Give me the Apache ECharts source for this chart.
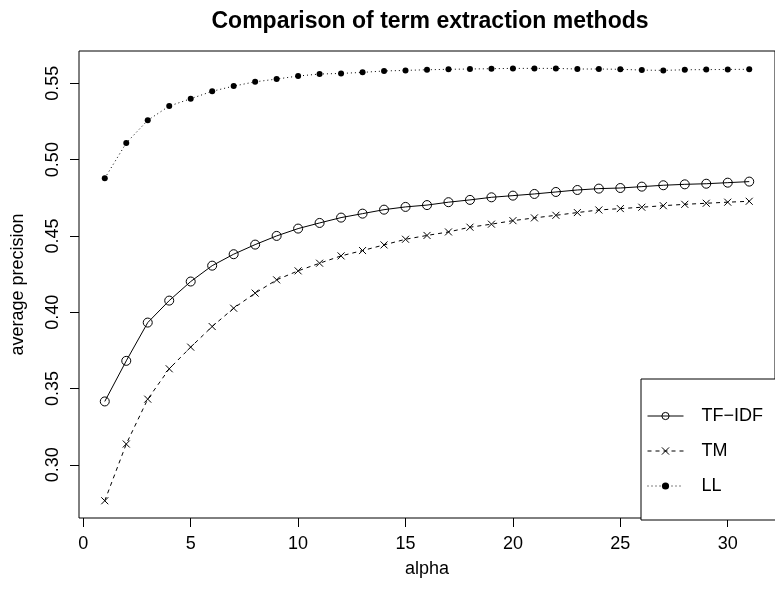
<!DOCTYPE html>
<html>
<head>
<meta charset="utf-8">
<script src="https://cdn.jsdelivr.net/npm/echarts@6/dist/echarts.min.js"></script>
<style>
    html, body { margin: 0; padding: 0; background: #fff; }
    #termChart { width: 775px; height: 595px; }
</style>
</head>
<body>
<div id="termChart"></div>
<script>
var alpha = [];
for (var i = 1; i <= 31; i++) alpha.push(i);

var tfidf = [0.3415, 0.3681, 0.3932, 0.4076, 0.4201, 0.4305, 0.4380, 0.4443, 0.4500, 0.4548,
    0.4585, 0.4620, 0.4646, 0.4672, 0.4690, 0.4702, 0.4721, 0.4736, 0.4753, 0.4764,
    0.4775, 0.4788, 0.4801, 0.4810, 0.4814, 0.4823, 0.4832, 0.4838, 0.4842, 0.4849, 0.4856];
var tm = [0.2764, 0.3136, 0.3430, 0.3629, 0.3771, 0.3906, 0.4026, 0.4125, 0.4212, 0.4271,
    0.4321, 0.4369, 0.4404, 0.4441, 0.4478, 0.4503, 0.4526, 0.4557, 0.4577, 0.4600,
    0.4618, 0.4635, 0.4653, 0.4670, 0.4679, 0.4688, 0.4698, 0.4707, 0.4714, 0.4721, 0.4727];
var ll = [0.4878, 0.5109, 0.5258, 0.5351, 0.5399, 0.5448, 0.5482, 0.5510, 0.5528, 0.5548,
    0.5561, 0.5565, 0.5572, 0.5581, 0.5585, 0.5589, 0.5592, 0.5594, 0.5596, 0.5598,
    0.5598, 0.5598, 0.5594, 0.5594, 0.5592, 0.5587, 0.5585, 0.5589, 0.5590, 0.5591, 0.5592];

var seriesNames = ['TF\u2212IDF', 'TM', 'LL'];
var xTicks = [0, 5, 10, 15, 20, 25, 30];
var yTicks = [0.30, 0.35, 0.40, 0.45, 0.50, 0.55];

function pairs(ys) {
    return alpha.map(function (a, k) { return [a, ys[k]]; });
}

var font = 'Liberation Sans, Arial, Helvetica, sans-serif';
var crossPath = 'path://M0,0L10,10M10,0L0,10';

var termChartOption = {
    animation: false,
    backgroundColor: '#fff',
    textStyle: { fontFamily: font, color: '#000' },
    title: {
        text: 'Comparison of term extraction methods',
        left: 430,
        top: 10,
        padding: 0,
        textAlign: 'center',
        textStyle: { fontFamily: font, fontSize: 23, fontWeight: 'bold', color: '#000' }
    },
    grid: {
        left: 79, top: 51, bottom: 77, right: -6.5,
        show: true, borderColor: '#000', borderWidth: 1,
        containLabel: false
    },
    legend: {
        orient: 'vertical',
        left: 641,
        top: 379,
        padding: [28, 40, 25, 6],
        itemWidth: 36,
        itemHeight: 9,
        itemGap: 17,
        borderColor: '#000',
        borderWidth: 1,
        borderRadius: 0,
        backgroundColor: '#fff',
        lineStyle: { width: 1 },
        itemStyle: { borderWidth: 1 },
        textStyle: { fontFamily: font, fontSize: 18, color: '#000', padding: [0, 0, 0, 13] },
        data: seriesNames
    },
    xAxis: {
        type: 'value',
        min: -0.2, max: 32.2,
        name: 'alpha',
        nameLocation: 'middle',
        nameGap: 42,
        nameTextStyle: { fontFamily: font, fontSize: 18, color: '#000' },
        splitLine: { show: false },
        axisLine: { show: false, onZero: false },
        axisTick: { show: true, length: 9, customValues: xTicks, lineStyle: { color: '#000' } },
        axisLabel: { customValues: xTicks, fontSize: 18, color: '#000', margin: 17, fontFamily: font }
    },
    yAxis: {
        type: 'value',
        min: 0.2651, max: 0.5712,
        name: 'average precision',
        nameLocation: 'middle',
        nameGap: 52,
        nameTextStyle: { fontFamily: font, fontSize: 18, color: '#000' },
        splitLine: { show: false },
        axisLine: { show: false, onZero: false },
        axisTick: { show: true, length: 9, customValues: yTicks, lineStyle: { color: '#000' } },
        axisLabel: {
            customValues: yTicks, rotate: 90, fontSize: 18, color: '#000', margin: 17, fontFamily: font,
            formatter: function (v) { return v.toFixed(2); }
        }
    },
    series: [{
        name: seriesNames[0],
        type: 'line',
        data: pairs(tfidf),
        symbol: 'circle',
        symbolSize: 9,
        itemStyle: { color: 'rgba(0,0,0,0)', borderColor: '#000', borderWidth: 1 },
        lineStyle: { color: '#000', width: 1, type: 'solid' }
    }, {
        name: seriesNames[1],
        type: 'line',
        data: pairs(tm),
        symbol: crossPath,
        symbolSize: 7,
        itemStyle: { color: 'rgba(0,0,0,0)', borderColor: '#000', borderWidth: 1 },
        lineStyle: { color: '#000', width: 1, type: [4, 4] }
    }, {
        name: seriesNames[2],
        type: 'line',
        data: pairs(ll),
        symbol: 'circle',
        symbolSize: 6,
        itemStyle: { color: '#000', borderWidth: 0 },
        lineStyle: { color: '#000', width: 1, type: [1, 3] }
    }]
};

var termChart = echarts.init(document.getElementById('termChart'));
termChart.setOption(termChartOption);
window.addEventListener('resize', function () {
    termChart.resize();
});
</script>
</body>
</html>
